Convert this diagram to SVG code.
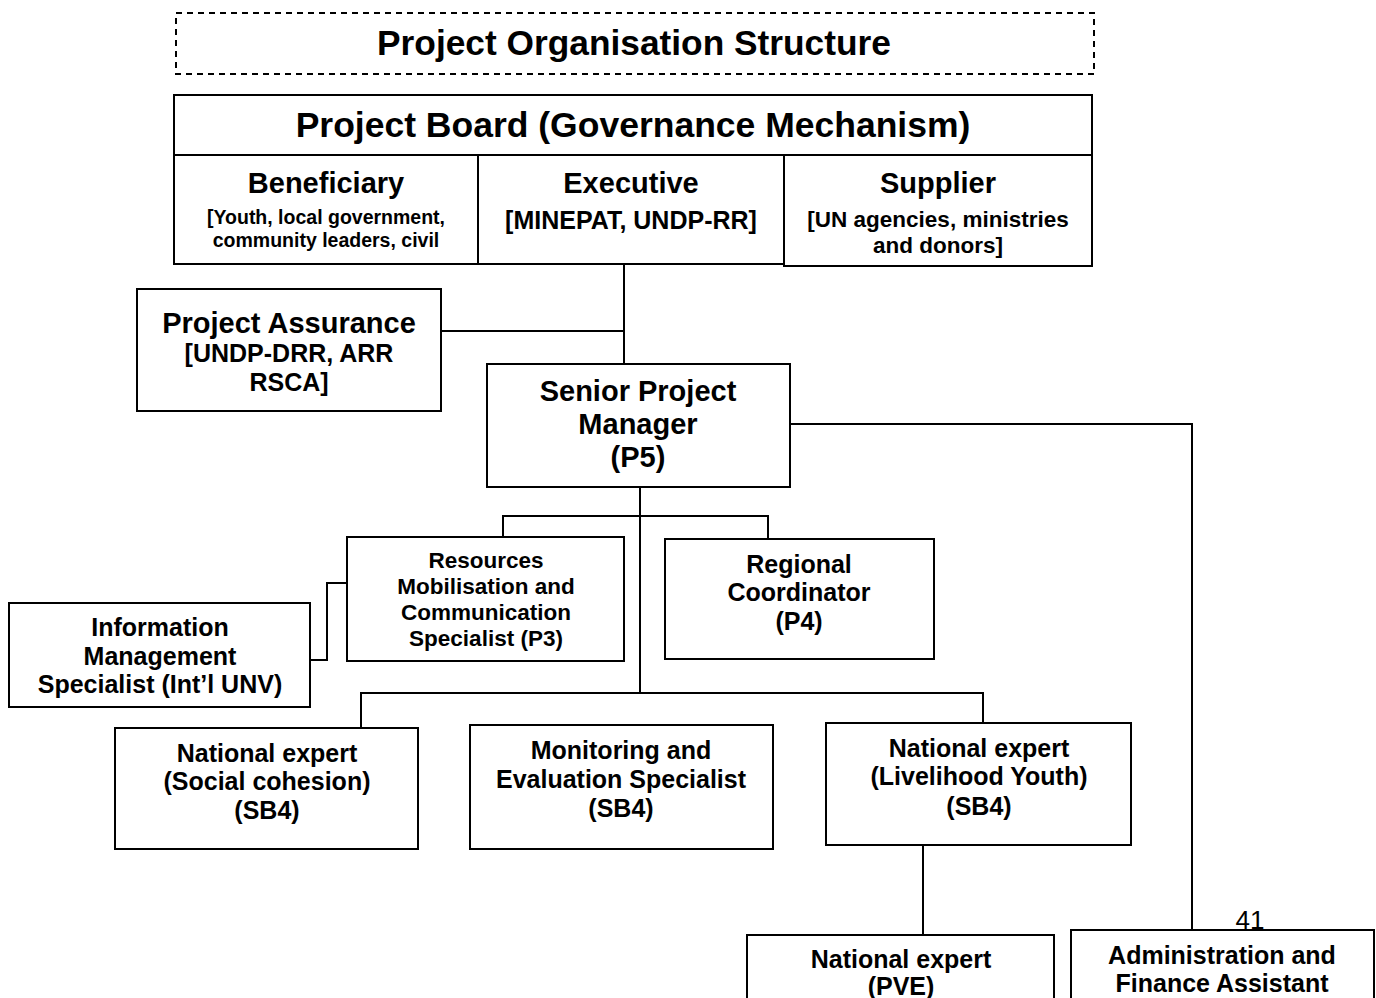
<svg xmlns="http://www.w3.org/2000/svg" width="1376" height="998" viewBox="0 0 1376 998">
  <style>
    .box { fill: #ffffff; stroke: #000000; stroke-width: 2; }
    .wire { fill: none; stroke: #000000; stroke-width: 2; }
    text { font-family: "Liberation Sans", Arial, sans-serif; font-weight: bold; fill: #000000; text-anchor: middle; }
    .h1 { font-size: 35.3px; }
    .h0 { font-size: 35.5px; }
    .h2 { font-size: 29px; }
    .b25 { font-size: 25px; }
    .b23 { font-size: 22.5px; }
    .b19 { font-size: 19.5px; }
  </style>
  <rect width="1376" height="998" fill="#ffffff"/>

  <!-- heading -->
  <g id="title">
    <rect x="176" y="13" width="918" height="61" fill="none" stroke="#000" stroke-width="2" stroke-dasharray="6,5"/>
    <text class="h1" x="634" y="55">Project Organisation Structure</text>
  </g>

  <!-- connectors -->
  <g id="connectors">
    <polyline class="wire" points="624,265 624,364"/>
    <polyline class="wire" points="441,331 624,331"/>
    <polyline class="wire" points="790,424 1192,424 1192,930"/>
    <polyline class="wire" points="640,487 640,693"/>
    <polyline class="wire" points="503,537 503,516 768,516 768,539"/>
    <polyline class="wire" points="310,660 327,660 327,583 347,583"/>
    <polyline class="wire" points="361,728 361,693 983,693 983,723"/>
    <polyline class="wire" points="923,845 923,935"/>
  </g>

  <g id="project-board">
    <rect class="box" x="174" y="95" width="918" height="60"/>
    <text class="h0" x="633" y="137">Project Board (Governance Mechanism)</text>
  </g>
  <g id="beneficiary">
    <rect class="box" x="174" y="155" width="304" height="109"/>
    <text class="h2" x="326" y="193">Beneficiary</text>
    <text class="b19" x="326" y="224">[Youth, local government,</text>
    <text class="b19" x="326" y="247">community leaders, civil</text>
  </g>
  <g id="executive">
    <rect class="box" x="478" y="155" width="306" height="109"/>
    <text class="h2" x="631" y="193">Executive</text>
    <text class="b25" x="631" y="229">[MINEPAT, UNDP-RR]</text>
  </g>
  <g id="supplier">
    <rect class="box" x="784" y="155" width="308" height="111"/>
    <text class="h2" x="938" y="193">Supplier</text>
    <text class="b23" x="938" y="227">[UN agencies, ministries</text>
    <text class="b23" x="938" y="253">and donors]</text>
  </g>

  <g id="project-assurance">
    <rect class="box" x="137" y="289" width="304" height="122"/>
    <text class="h2" x="289" y="333">Project Assurance</text>
    <text class="b25" x="289" y="362">[UNDP-DRR, ARR</text>
    <text class="b25" x="289" y="391">RSCA]</text>
  </g>

  <g id="senior-project-manager">
    <rect class="box" x="487" y="364" width="303" height="123"/>
    <text class="h2" x="638" y="401">Senior Project</text>
    <text class="h2" x="638" y="434">Manager</text>
    <text class="h2" x="638" y="467">(P5)</text>
  </g>

  <g id="resources-mobilisation">
    <rect class="box" x="347" y="537" width="277" height="124"/>
    <text class="b23" x="486" y="568">Resources</text>
    <text class="b23" x="486" y="594">Mobilisation and</text>
    <text class="b23" x="486" y="620">Communication</text>
    <text class="b23" x="486" y="646">Specialist (P3)</text>
  </g>

  <g id="regional-coordinator">
    <rect class="box" x="665" y="539" width="269" height="120"/>
    <text class="b25" x="799" y="573">Regional</text>
    <text class="b25" x="799" y="601">Coordinator</text>
    <text class="b25" x="799" y="630">(P4)</text>
  </g>

  <g id="information-management">
    <rect class="box" x="9" y="603" width="301" height="104"/>
    <text class="b25" x="160" y="636">Information</text>
    <text class="b25" x="160" y="665">Management</text>
    <text class="b25" x="160" y="693">Specialist (Int’l UNV)</text>
  </g>

  <g id="expert-social-cohesion">
    <rect class="box" x="115" y="728" width="303" height="121"/>
    <text class="b25" x="267" y="762">National expert</text>
    <text class="b25" x="267" y="790">(Social cohesion)</text>
    <text class="b25" x="267" y="819">(SB4)</text>
  </g>

  <g id="monitoring-evaluation">
    <rect class="box" x="470" y="725" width="303" height="124"/>
    <text class="b25" x="621" y="759">Monitoring and</text>
    <text class="b25" x="621" y="788">Evaluation Specialist</text>
    <text class="b25" x="621" y="817">(SB4)</text>
  </g>

  <g id="expert-livelihood-youth">
    <rect class="box" x="826" y="723" width="305" height="122"/>
    <text class="b25" x="979" y="757">National expert</text>
    <text class="b25" x="979" y="785">(Livelihood Youth)</text>
    <text class="b25" x="979" y="815">(SB4)</text>
  </g>

  <g id="expert-pve">
    <rect class="box" x="747" y="935" width="307" height="80"/>
    <text class="b25" x="901" y="968">National expert</text>
    <text class="b25" x="901" y="995">(PVE)</text>
  </g>

  <g id="admin-finance-assistant">
    <rect class="box" x="1071" y="930" width="303" height="85"/>
    <text class="b25" x="1222" y="964">Administration and</text>
    <text class="b25" x="1222" y="992">Finance Assistant</text>
  </g>

  <text x="1250" y="929" style="font-weight:normal;font-size:26px">41</text>
</svg>
